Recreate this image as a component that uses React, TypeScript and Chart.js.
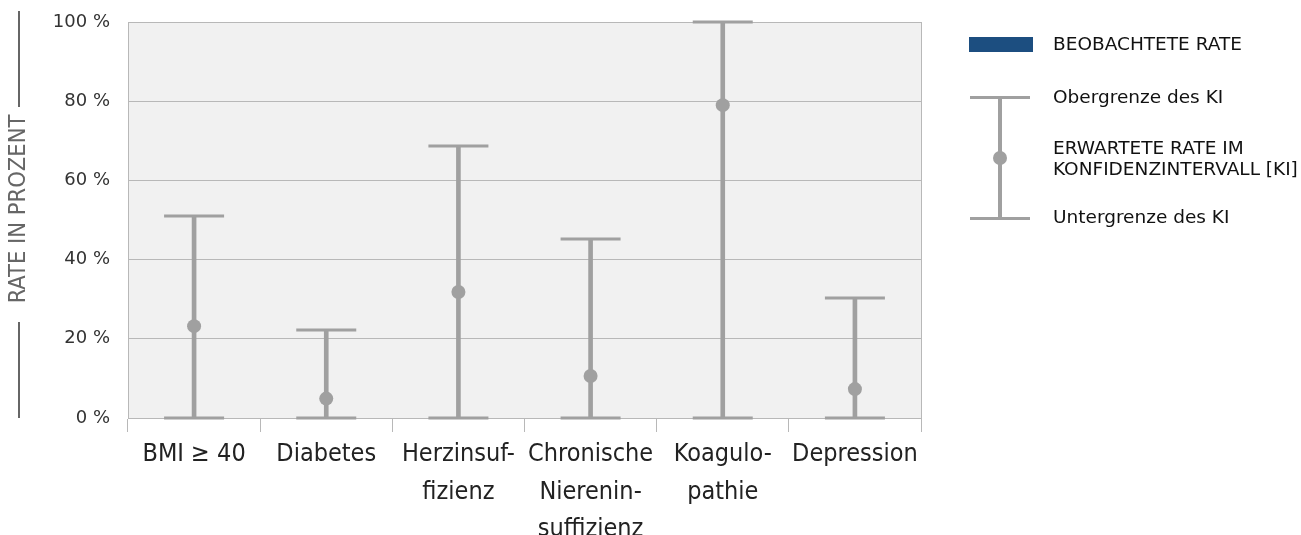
import React, { useEffect, useRef } from "react";
import { Chart, registerables } from "chart.js";

Chart.register(...registerables);

const categories: (string | string[])[] = [
  "BMI ≥ 40",
  "Diabetes",
  ["Herzinsuf-", "fizienz"],
  ["Chronische", "Nierenin-", "suffizienz"],
  ["Koagulo-", "pathie"],
  "Depression",
];
const upperBound = [51.0, 22.2, 68.7, 45.2, 100.0, 30.3];
const expectedRate = [23.2, 4.9, 31.8, 10.6, 79.0, 7.3];
const lowerBound = [0, 0, 0, 0, 0, 0];
const yTicks = [0, 20, 40, 60, 80, 100];

const GREY = "#a0a0a0";
const GRID = "#b8b8b8";
const CONDENSED = "'Liberation Sans Narrow', 'DejaVu Sans Condensed', 'Roboto Condensed', sans-serif";
const SANS = "'DejaVu Sans', sans-serif";

const decorPlugin = {
  id: "decor",
  beforeDraw(chart: any) {
    const { ctx, chartArea } = chart;
    ctx.save();
    ctx.fillStyle = "#f1f1f1";
    ctx.fillRect(chartArea.left, chartArea.top, chartArea.right - chartArea.left, chartArea.bottom - chartArea.top);
    ctx.restore();
  },
  beforeDatasetsDraw(chart: any) {
    const { ctx, chartArea } = chart;
    ctx.save();
    ctx.strokeStyle = GRID;
    ctx.lineWidth = 1;
    ctx.beginPath();
    ctx.moveTo(Math.round(chartArea.right) + 0.5, chartArea.top);
    ctx.lineTo(Math.round(chartArea.right) + 0.5, chartArea.bottom);
    ctx.stroke();
    ctx.restore();
  },
  afterDraw(chart: any) {
    const { ctx, chartArea } = chart;
    ctx.save();
    // y axis title with lines
    const cx = 19;
    const cy = 209;
    ctx.strokeStyle = "#666";
    ctx.lineWidth = 2;
    ctx.beginPath();
    ctx.moveTo(cx, 11);
    ctx.lineTo(cx, 107);
    ctx.moveTo(cx, 322);
    ctx.lineTo(cx, chartArea.bottom);
    ctx.stroke();
    ctx.translate(cx, cy);
    ctx.rotate(-Math.PI / 2);
    ctx.fillStyle = "#666";
    ctx.font = `23.5px ${CONDENSED}`;
    ctx.textAlign = "center";
    ctx.textBaseline = "middle";
    ctx.fillText("RATE IN PROZENT", 0, 0);
    ctx.restore();

    // legend
    ctx.save();
    const lx = 1000;
    ctx.fillStyle = "#1c4e80";
    ctx.fillRect(969, 37, 64, 15);
    ctx.strokeStyle = GREY;
    ctx.lineWidth = 4;
    ctx.beginPath();
    ctx.moveTo(lx, 97.5);
    ctx.lineTo(lx, 218.5);
    ctx.stroke();
    ctx.lineWidth = 3;
    ctx.beginPath();
    ctx.moveTo(970, 97.5);
    ctx.lineTo(1030, 97.5);
    ctx.moveTo(970, 218.5);
    ctx.lineTo(1030, 218.5);
    ctx.stroke();
    ctx.fillStyle = GREY;
    ctx.beginPath();
    ctx.arc(lx, 158, 7, 0, Math.PI * 2);
    ctx.fill();
    ctx.fillStyle = "#111";
    ctx.font = `18.5px ${SANS}`;
    ctx.textAlign = "left";
    ctx.textBaseline = "middle";
    ctx.fillText("BEOBACHTETE RATE", 1053, 45);
    ctx.fillText("Obergrenze des KI", 1053, 98);
    ctx.fillText("ERWARTETE RATE IM", 1053, 149);
    ctx.fillText("KONFIDENZINTERVALL [KI]", 1053, 170);
    ctx.fillText("Untergrenze des KI", 1053, 218);
    ctx.restore();
  },
};

export default function App() {
  const ref = useRef<HTMLCanvasElement>(null);
  useEffect(() => {
    if (!ref.current) return;
    const chart = new Chart(ref.current, {
      type: "bar",
      data: {
        labels: categories as any,
        datasets: [
          {
            type: "bar",
            label: "KI",
            data: lowerBound.map((l, i) => [l, upperBound[i]]) as any,
            backgroundColor: GREY,
            barThickness: 4,
            borderWidth: 0,
            order: 3,
          },
          {
            type: "line",
            label: "Obergrenze des KI",
            data: upperBound,
            showLine: false,
            pointStyle: "line",
            pointRadius: 30,
            pointBorderWidth: 3,
            borderColor: GREY,
            backgroundColor: GREY,
            order: 2,
            clip: false,
          } as any,
          {
            type: "line",
            label: "Untergrenze des KI",
            data: lowerBound,
            showLine: false,
            pointStyle: "line",
            pointRadius: 30,
            pointBorderWidth: 3,
            borderColor: GREY,
            backgroundColor: GREY,
            order: 2,
            clip: false,
          } as any,
          {
            type: "line",
            label: "Erwartete Rate",
            data: expectedRate,
            showLine: false,
            pointStyle: "circle",
            pointRadius: 7,
            pointBorderWidth: 0,
            borderColor: GREY,
            backgroundColor: GREY,
            order: 1,
          } as any,
        ],
      },
      options: {
        animation: false,
        responsive: false,
        maintainAspectRatio: false,
        layout: { autoPadding: false, padding: { left: 0, right: 380, top: 22, bottom: 0 } },
        plugins: { legend: { display: false }, tooltip: { enabled: false } },
        scales: {
          x: {
            offset: true,
            grid: {
              offset: true,
              drawOnChartArea: false,
              drawTicks: true,
              tickLength: 14,
              color: GRID,
            },
            border: { display: true, color: GRID },
            ticks: {
              color: "#222",
              padding: 4,
              maxRotation: 0,
              autoSkip: false,
              font: { family: CONDENSED, size: 25, lineHeight: 1.5 },
            },
            afterFit(scale: any) {
              scale.height = 535 - 418;
              scale.paddingLeft = 0;
              scale.paddingRight = 0;
            },
          },
          y: {
            min: 0,
            max: 100,
            afterBuildTicks(scale: any) {
              scale.ticks = yTicks.map((v) => ({ value: v }));
            },
            grid: { color: GRID, drawTicks: false },
            border: { display: true, color: GRID },
            ticks: {
              color: "#333",
              padding: 18,
              font: { family: SANS, size: 18 },
              callback: (v: any) => `${v} %`,
            },
            afterFit(scale: any) {
              scale.width = 128;
              scale.paddingTop = 0;
              scale.paddingBottom = 0;
            },
          },
        },
      } as any,
      plugins: [decorPlugin],
    });
    return () => chart.destroy();
  }, []);
  return (
    <div style={{ position: "fixed", left: 0, top: 0, width: 1301, height: 535, background: "#fff" }}>
      <canvas ref={ref} width={1301} height={535} style={{ width: 1301, height: 535 }} />
    </div>
  );
}
